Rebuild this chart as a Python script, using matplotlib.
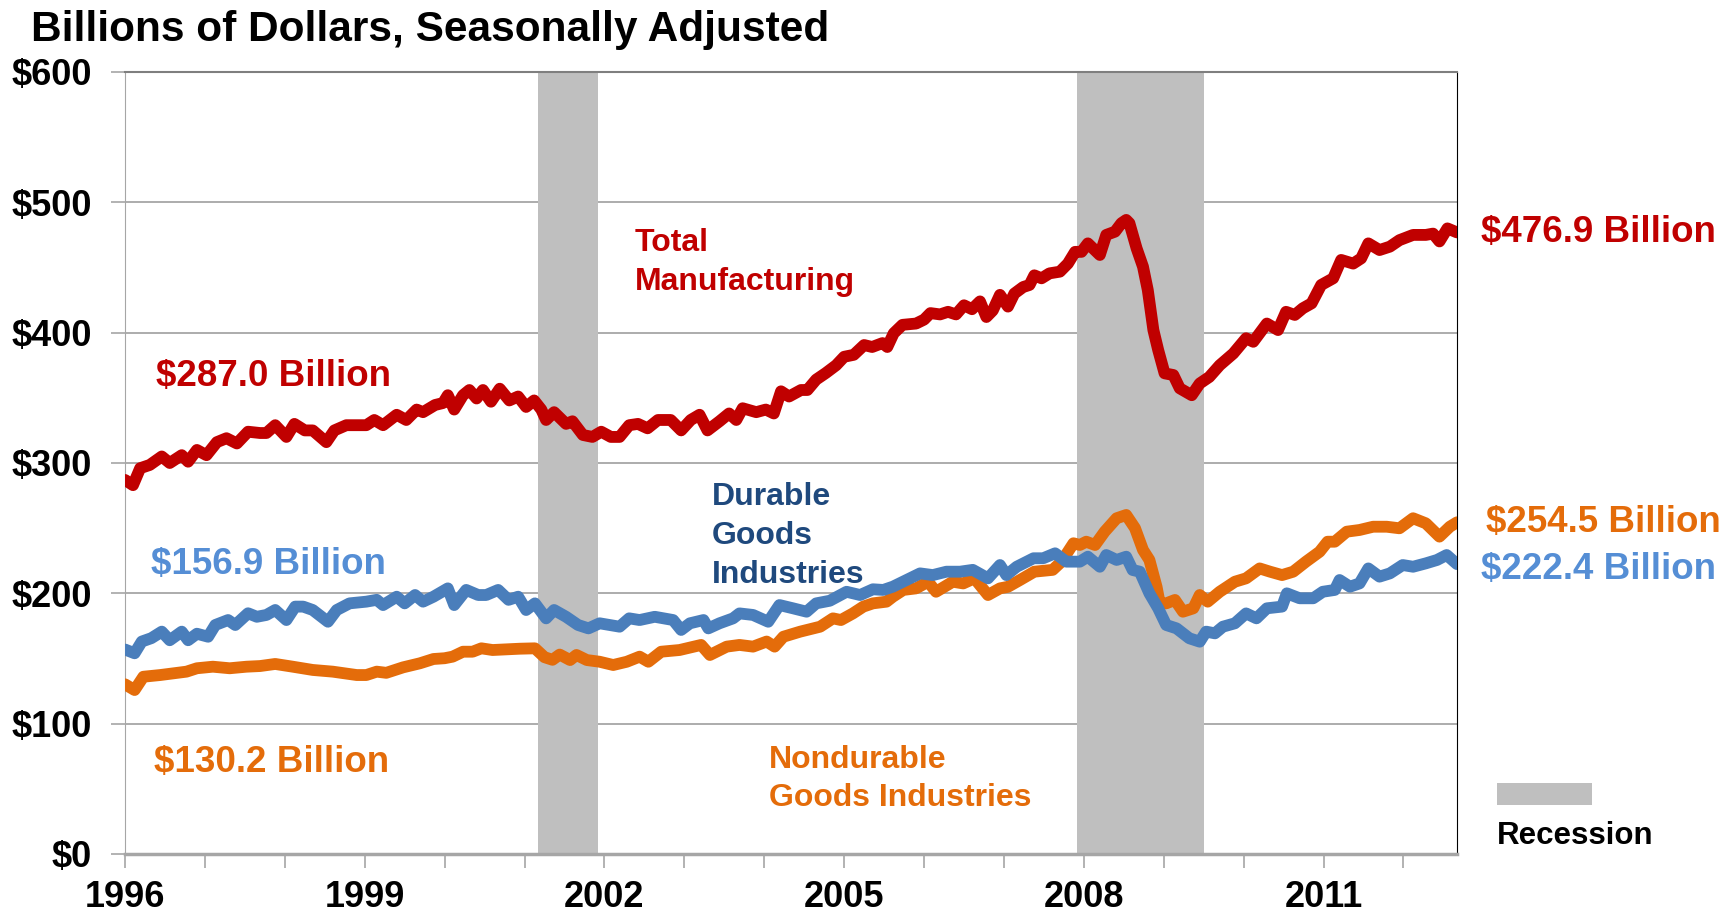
import matplotlib
matplotlib.use("Agg")
import matplotlib.pyplot as plt
from matplotlib.patches import Rectangle

plt.rcParams['font.family'] = ['Liberation Sans', 'DejaVu Sans']
plt.rcParams['font.weight'] = 'bold'

# values (decimal year, billions of dollars)
t_total = [1996.00, 1996.10, 1996.19, 1996.31, 1996.46, 1996.56, 1996.71, 1996.79, 1996.90,
           1997.02, 1997.15, 1997.27, 1997.40, 1997.54, 1997.69, 1997.77, 1997.88, 1998.02,
           1998.12, 1998.25, 1998.35, 1998.52, 1998.62, 1998.77, 1999.02, 1999.12, 1999.23,
           1999.40, 1999.52, 1999.65, 1999.73, 1999.88, 1999.98, 2000.04, 2000.12, 2000.23,
           2000.31, 2000.40, 2000.48, 2000.58, 2000.69, 2000.81, 2000.92, 2001.02, 2001.12,
           2001.21, 2001.27, 2001.37, 2001.52, 2001.60, 2001.73, 2001.85, 2001.96, 2002.08,
           2002.19, 2002.31, 2002.42, 2002.54, 2002.67, 2002.83, 2002.96, 2003.08, 2003.19,
           2003.29, 2003.44, 2003.56, 2003.65, 2003.73, 2003.90, 2004.02, 2004.12, 2004.21,
           2004.31, 2004.46, 2004.54, 2004.65, 2004.77, 2004.90, 2005.00, 2005.12, 2005.25,
           2005.35, 2005.48, 2005.54, 2005.62, 2005.73, 2005.90, 2006.00, 2006.08, 2006.20,
           2006.30, 2006.40, 2006.50, 2006.60, 2006.70, 2006.78, 2006.86, 2006.95, 2007.05,
           2007.13, 2007.24, 2007.32, 2007.38, 2007.47, 2007.57, 2007.70, 2007.80, 2007.89,
           2007.97, 2008.05, 2008.20, 2008.28, 2008.39, 2008.47, 2008.53, 2008.57, 2008.66,
           2008.74, 2008.80, 2008.87, 2008.93, 2009.01, 2009.12, 2009.20, 2009.35, 2009.45,
           2009.57, 2009.70, 2009.87, 2010.03, 2010.12, 2010.29, 2010.43, 2010.53, 2010.64,
           2010.74, 2010.85, 2010.97, 2011.12, 2011.22, 2011.37, 2011.47, 2011.56, 2011.70,
           2011.83, 2011.95, 2012.12, 2012.28, 2012.37, 2012.45, 2012.55, 2012.67]
total = [287.0, 283, 296, 298.5, 305, 300, 306, 301, 310,
         306, 316, 319, 315, 324, 323, 323, 329, 320,
         330, 325, 325, 316, 325, 329, 329, 333, 329,
         337, 333, 341, 339, 344.5, 346, 352, 341, 352,
         356, 349.5, 356, 347, 357, 348, 351, 343, 348,
         341, 333, 339, 330, 332, 321.5, 320, 324, 320,
         320, 329, 330, 326.6, 333, 333, 325, 333, 337,
         325, 332, 338, 333, 342, 339, 341, 338, 355,
         351, 356, 356, 364, 369, 375, 381.5, 383, 390.5,
         389, 392, 389, 399.5, 406, 407, 410, 415, 414,
         416, 414, 421, 418, 424, 412, 417, 429, 420,
         430, 435, 436.6, 444, 441.7, 445.5, 446.8, 453, 462,
         462, 468.5, 459.6, 475, 477.5, 484, 486.5, 484, 464.7,
         450.6, 432.7, 402, 386.7, 368.8, 367.5, 357.3, 352, 361,
         366, 375, 384, 395.7, 393, 407, 402, 416, 413.6,
         418.7, 422.5, 436.6, 441.7, 455.8, 453, 457, 468.5, 463.4,
         466, 471, 475, 475, 476, 470, 480, 476.9]

t_durable = [1996.00, 1996.12, 1996.21, 1996.33, 1996.46, 1996.56, 1996.71, 1996.79, 1996.90,
             1997.04, 1997.13, 1997.29, 1997.38, 1997.54, 1997.65, 1997.77, 1997.88, 1998.02,
             1998.13, 1998.23, 1998.35, 1998.54, 1998.65, 1998.81, 1999.02, 1999.15, 1999.23,
             1999.40, 1999.50, 1999.63, 1999.73, 1999.86, 2000.04, 2000.12, 2000.27, 2000.42,
             2000.52, 2000.67, 2000.80, 2000.92, 2001.02, 2001.13, 2001.27, 2001.37, 2001.52,
             2001.67, 2001.80, 2001.94, 2002.19, 2002.31, 2002.44, 2002.63, 2002.86, 2002.96,
             2003.07, 2003.24, 2003.30, 2003.44, 2003.61, 2003.69, 2003.86, 2004.05, 2004.19,
             2004.36, 2004.53, 2004.65, 2004.82, 2005.03, 2005.20, 2005.36, 2005.49, 2005.61,
             2005.78, 2005.95, 2006.11, 2006.28, 2006.45, 2006.61, 2006.80, 2006.95, 2007.03,
             2007.16, 2007.37, 2007.49, 2007.64, 2007.78, 2007.95, 2008.05, 2008.20, 2008.28,
             2008.41, 2008.53, 2008.61, 2008.70, 2008.82, 2008.93, 2009.03, 2009.16, 2009.32,
             2009.45, 2009.53, 2009.64, 2009.74, 2009.89, 2010.03, 2010.16, 2010.29, 2010.48,
             2010.54, 2010.70, 2010.87, 2010.99, 2011.14, 2011.20, 2011.33, 2011.45, 2011.56,
             2011.70, 2011.83, 2011.99, 2012.12, 2012.28, 2012.42, 2012.54, 2012.67]
durable = [156.9, 154, 163, 165.6, 170.6, 164, 170.6, 164, 169,
           166.7, 175.7, 179.5, 175.7, 184.7, 182, 183.4, 187.2, 179.5,
           189.8, 189.8, 187.2, 178.2, 187.2, 192.3, 193.6, 195, 191,
           197.4, 192.3, 198.7, 193.6, 197.4, 203.8, 191, 202.6, 198.7,
           198.7, 202.6, 195, 197.4, 187.2, 192.3, 180.8, 187.2, 182,
           175.7, 173.1, 177, 174.4, 180.8, 179.5, 182, 179.5, 171.9,
           177, 179.5, 173.1, 177, 180.8, 184.6, 183.4, 178.2, 191,
           188.5, 185.9, 192.3, 194.3, 201.2, 198.7, 203.1, 202.6, 205.1,
           210.2, 215.3, 214, 216.6, 216.6, 218, 211.5, 221.7, 214,
           220.4, 226.9, 226.9, 230.7, 224.3, 224.3, 228.1, 220.4, 229.4,
           225.6, 228.1, 217.9, 216.6, 200, 188.5, 175.7, 173.1, 165.5,
           162.9, 170.6, 169.3, 174.4, 177, 184.6, 180.8, 188.5, 189.8,
           200, 196.2, 196.2, 201.2, 202.6, 210.2, 205.1, 207.6, 219.1,
           212.8, 215.3, 221.7, 220.4, 223, 225.6, 229.4, 222.4]

t_nondurable = [1996.00, 1996.12, 1996.23, 1996.44, 1996.77, 1996.90, 1997.10, 1997.31, 1997.52,
                1997.69, 1997.88, 1998.10, 1998.35, 1998.60, 1998.90, 1999.02, 1999.15, 1999.27,
                1999.48, 1999.69, 1999.86, 2000.00, 2000.10, 2000.23, 2000.35, 2000.46, 2000.60,
                2000.77, 2000.94, 2001.13, 2001.25, 2001.35, 2001.44, 2001.57, 2001.65, 2001.78,
                2001.94, 2002.11, 2002.28, 2002.44, 2002.55, 2002.71, 2002.94, 2003.21, 2003.32,
                2003.53, 2003.69, 2003.86, 2004.03, 2004.13, 2004.24, 2004.45, 2004.70, 2004.86,
                2004.96, 2005.11, 2005.24, 2005.36, 2005.53, 2005.61, 2005.74, 2005.90, 2006.05,
                2006.15, 2006.36, 2006.49, 2006.63, 2006.80, 2006.95, 2007.05, 2007.20, 2007.38,
                2007.61, 2007.72, 2007.87, 2007.95, 2008.03, 2008.14, 2008.26, 2008.41, 2008.53,
                2008.64, 2008.74, 2008.82, 2008.91, 2008.95, 2009.03, 2009.14, 2009.24, 2009.37,
                2009.45, 2009.55, 2009.70, 2009.89, 2010.03, 2010.20, 2010.33, 2010.48, 2010.62,
                2010.78, 2010.95, 2011.05, 2011.14, 2011.29, 2011.45, 2011.62, 2011.79, 2011.95,
                2012.12, 2012.28, 2012.45, 2012.58, 2012.67]
nondurable = [130.2, 125.8, 136, 137.3, 139.9, 142.5, 143.7, 142.5, 143.7,
              144.2, 145.8, 143.7, 141.2, 139.9, 137.3, 137.3, 139.9, 139,
              143.2, 146.3, 149.6, 150.2, 151.4, 155.2, 155.2, 157.8, 156.5,
              157, 157.5, 157.8, 151, 149, 153, 148.8, 152.7, 148.8,
              147.5, 145, 147.5, 151.4, 147.5, 155.2, 156.5, 160.4, 152.7,
              159.1, 160.4, 159.1, 163, 159.1, 166.7, 170.6, 174.4, 180.8,
              179.5, 184.6, 189.8, 192.3, 193.6, 197.4, 202.6, 203.8, 208.9,
              201.2, 208.9, 207.6, 211.5, 198.7, 203.8, 205, 210.2, 216.6,
              218, 224.3, 238.4, 237.1, 239.6, 237.1, 247.3, 257.6, 260.1,
              250, 233.3, 225.6, 205, 192.3, 192.3, 194.9, 185.9, 188.5,
              198.7, 193.6, 201.2, 208.9, 211.5, 219.1, 216.6, 214, 216.6,
              224.3, 231.9, 239.6, 239.6, 247.3, 248.6, 251.1, 251.1, 249.9,
              257.6, 253.7, 243.5, 251.1, 254.5]

recessions = [(2001.17, 2001.92), (2007.92, 2009.50)]
year_ticks = list(range(1996, 2013))
year_labels = [str(y) if (y - 1996) % 3 == 0 else '' for y in year_ticks]
value_ticks = [0, 100, 200, 300, 400, 500, 600]

RED = '#C00000'
BLUE = '#4A7EBB'
BLUE_TXT = '#558ED5'
NAVY = '#1F497D'
ORANGE = '#E46C0A'
GREY = '#BFBFBF'

fig = plt.figure(figsize=(17.36, 9.16), dpi=100)
ax = fig.add_axes([0.072, 0.0677, 0.7673, 0.8537])

for a, b in recessions:
    ax.axvspan(a, b, color=GREY, lw=0, zorder=1)

kw = dict(lw=8.5, solid_capstyle='round', solid_joinstyle='round', zorder=3)
ax.plot(t_nondurable, nondurable, color=ORANGE, **kw)
ax.plot(t_durable, durable, color=BLUE, **kw)
ax.plot(t_total, total, color=RED, **kw)

ax.set_xlim(1996, 2012.67)
ax.set_ylim(0, 600)
ax.set_yticks(value_ticks)
ax.set_yticklabels(['${}'.format(v) for v in value_ticks])
ax.set_xticks(year_ticks)
ax.set_xticklabels(year_labels)
ax.yaxis.grid(True, color='#A6A6A6', lw=1.3)
ax.set_axisbelow(True)
ax.tick_params(axis='y', length=10, width=1.2, color='#A6A6A6', labelsize=26, pad=14)
ax.tick_params(axis='x', length=10, width=1.2, color='#A6A6A6', labelsize=26, pad=9)

ax.spines['left'].set_color('#A6A6A6')
ax.spines['top'].set_color('#7F7F7F')
ax.spines['top'].set_linewidth(1.5)
ax.spines['right'].set_color('black')
ax.spines['bottom'].set_color('#A6A6A6')
ax.spines['bottom'].set_linewidth(2.5)

fig.text(0.0179, 0.967, 'Billions of Dollars, Seasonally Adjusted', fontsize=30.5,
         va='center', ha='left')

lab = dict(fontsize=26.5, va='center', ha='left')
ax.text(1996.39, 366, '$287.0 Billion', color=RED, **lab)
ax.text(1996.33, 222, '$156.9 Billion', color=BLUE_TXT, **lab)
ax.text(1996.36, 70.5, '$130.2 Billion', color=ORANGE, **lab)
ax.text(2012.97, 476.5, '$476.9 Billion', color=RED, **lab)
ax.text(2013.03, 254, '$254.5 Billion', color=ORANGE, **lab)
ax.text(2012.97, 218, '$222.4 Billion', color=BLUE_TXT, **lab)

name = dict(fontsize=23, va='center', ha='left', linespacing=1.38)
ax.text(2002.38, 454, 'Total\nManufacturing', color=RED, **name)
ax.text(2003.34, 244, 'Durable\nGoods\nIndustries', color=NAVY, **name)
ax.text(2004.06, 57.5, 'Nondurable\nGoods Industries', color=ORANGE, **name)

ax.add_patch(Rectangle((1.030, 0.0627), 0.0713, 0.0281, transform=ax.transAxes,
                       color=GREY, lw=0, clip_on=False))
ax.text(1.030, 0.0225, 'Recession', transform=ax.transAxes, fontsize=22.5,
        va='center', ha='left', color='black')

fig.savefig('out.png', dpi=100)
